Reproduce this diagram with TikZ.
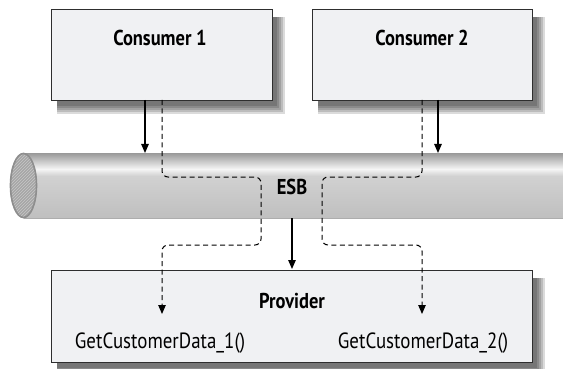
\documentclass[tikz,border=0pt]{standalone}
\usepackage{fontspec}
\setmainfont{PT Sans}[FakeStretch=0.86]
\usetikzlibrary{arrows.meta,patterns,calc}
\definecolor{boxfill}{HTML}{F0F1F3}
\definecolor{boxline}{HTML}{2E2E2E}
\definecolor{capfill}{HTML}{A6A6A6}
\definecolor{caprim}{HTML}{8E8E8E}
\newcommand\boxshadow[4]{%
  \foreach \k in {0,...,4}{%
    \fill[black,opacity=0.14] (#1+6,#2+8) rectangle (#3+13-2*\k,#4+14-2*\k);}}
\begin{document}
\begin{tikzpicture}[x=1pt,y=-1pt,
  box/.style={draw=boxline, line width=1.3pt, fill=boxfill, inner sep=0pt, anchor=north west},
  lbl/.style={font=\fontsize{21.5}{24}\selectfont\bfseries, inner sep=0pt},
  mth/.style={font=\fontsize{22}{24}\selectfont, inner sep=0pt},
  flow/.style={line width=1.2pt, -{Triangle[length=9pt,width=7.5pt]}},
  call/.style={line width=1pt, dash pattern=on 5pt off 3.5pt, rounded corners=6pt, -{Triangle[length=9pt,width=7.5pt]}}]
\useasboundingbox (0,0) rectangle (563,369);
\fill[white] (0,0) rectangle (563,369);
% shadows
\boxshadow{51}{9}{272}{100}
\boxshadow{312}{9}{532}{100}
\boxshadow{51}{270}{532}{362}
% boxes
\node[box, minimum width=221pt, minimum height=91pt] (c1) at (51,9) {};
\node[box, minimum width=220pt, minimum height=91pt] (c2) at (312,9) {};
\node[box, minimum width=481pt, minimum height=92pt] (prov) at (51,270) {};
% cylinder body
\shade[top color=black!40, bottom color=black!4] (23.5,153) rectangle (563,169);
\shade[top color=black!4, bottom color=black!18] (23.5,169) rectangle (563,176);
\shade[top color=black!18, bottom color=black!25] (23.5,176) rectangle (563,218);
\draw[black!32, line width=0.8pt] (23.5,218) -- (563,218);
% cylinder cap
\fill[capfill] (23.5,185.5) ellipse [x radius=13.5, y radius=32.5];
\fill[pattern=north east lines, pattern color=black!22] (23.5,185.5) ellipse [x radius=12.5, y radius=31.5];
\draw[caprim, line width=1.6pt] (23.5,185.5) ellipse [x radius=13, y radius=32];
% texts
\node[lbl] (c1t) at (160,38) {Consumer 1};
\node[lbl] (c2t) at (422,38) {Consumer 2};
\node[lbl] (esb) at (292,187) {ESB};
\node[lbl] (pt) at (292,301) {Provider};
\node[mth] (m1) at (160,343) {GetCustomerData\_1()};
\node[mth] (m2) at (423,343) {GetCustomerData\_2()};
% connector coordinates
\coordinate (a1) at (145,100);
\coordinate (a1e) at (145,153);
\coordinate (a2) at (438,100);
\coordinate (a2e) at (438,153);
\coordinate (a3) at (292,218);
\coordinate (a3e) at (292,269);
\coordinate (d1) at (162,100);
\coordinate (d1e) at (162,314);
\coordinate (d2) at (422,100);
\coordinate (d2e) at (422,314);
% connectors
\draw[flow] (a1) -- (a1e);
\draw[flow] (a2) -- (a2e);
\draw[flow] (a3) -- (a3e);
\draw[call] (d1) -- (162,177) -- (261,177) -- (261,245) -- (162,245) -- (d1e);
\draw[call] (d2) -- (422,177) -- (322,177) -- (322,245) -- (422,245) -- (d2e);
\end{tikzpicture}
\end{document}
